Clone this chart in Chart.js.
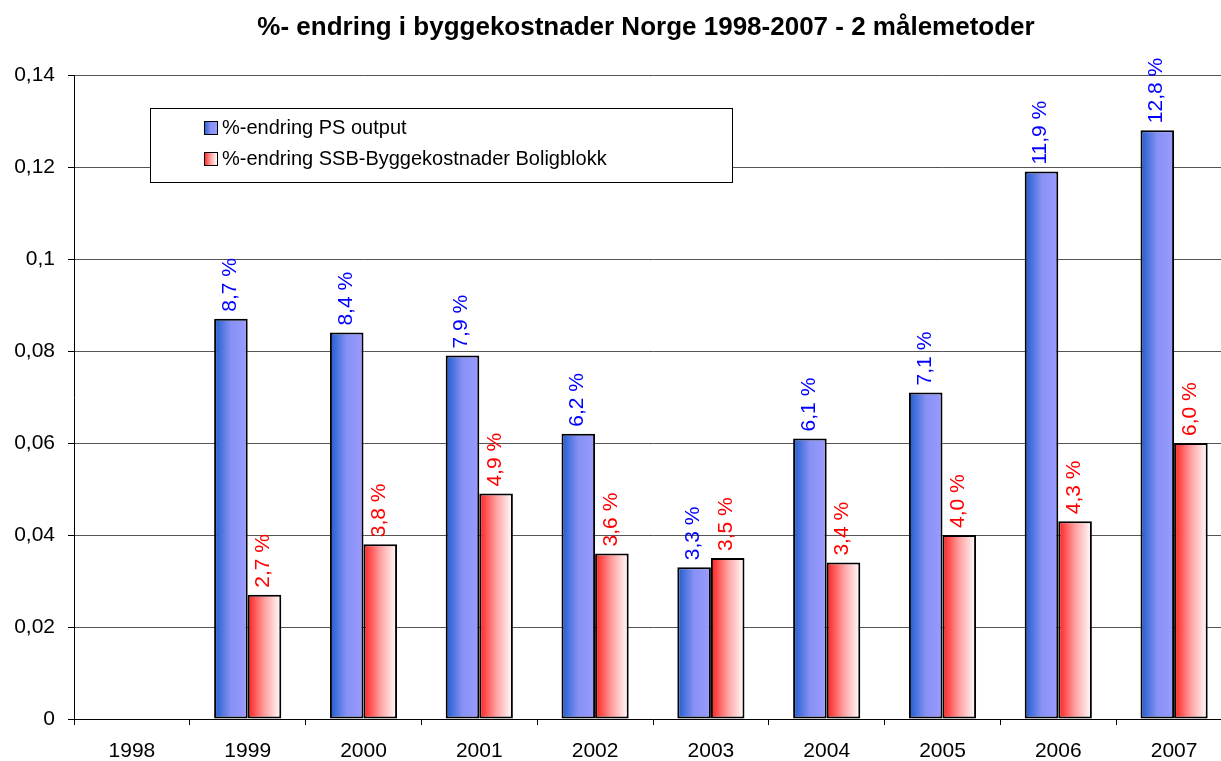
<!DOCTYPE html>
<html>
<head>
<meta charset="utf-8">
<script src="https://cdn.jsdelivr.net/npm/chart.js@4"></script>
<style>
  html, body { margin: 0; padding: 0; background: #fff; overflow: hidden; }
  #wrap { position: relative; width: 1221px; height: 761px; overflow: hidden; }
</style>
</head>
<body>
<div id="wrap"><canvas id="byggChart" width="1232" height="761"></canvas></div>
<script>
const years = ['1998', '1999', '2000', '2001', '2002', '2003', '2004', '2005', '2006', '2007'];
const psOutput = [null, 0.087, 0.084, 0.079, 0.062, 0.033, 0.061, 0.071, 0.119, 0.128];
const ssbBolig = [null, 0.027, 0.038, 0.049, 0.036, 0.035, 0.034, 0.040, 0.043, 0.060];
const yTickLabels = ['0', '0,02', '0,04', '0,06', '0,08', '0,1', '0,12', '0,14'];
const seriesNames = ['%-endring PS output', '%-endring SSB-Byggekostnader Boligblokk'];
const titleText = '%- endring i byggekostnader Norge 1998-2007 - 2 målemetoder';

const CAT_PCT = 0.58;
const blueStops = ['#1c5ccc', '#8791f4', '#9b9bff'];
const redStops = ['#ff1c1c', '#ffa0a0', '#ffffff'];
const labelColors = ['#0000ff', '#ff0000'];

function makeGrad(ctx, x0, x1, stops) {
    const g = ctx.createLinearGradient(x0, 0, x1, 0);
    g.addColorStop(0, stops[0]);
    g.addColorStop(0.5, stops[1]);
    g.addColorStop(1, stops[2]);
    return g;
}

function barFill(stops, side) {
    return function (context) {
        const chart = context.chart;
        const xs = chart.scales.x;
        if (!chart.chartArea || !xs) return stops[1];
        const center = xs.getPixelForValue(context.dataIndex);
        const barW = (xs.width / years.length) * CAT_PCT / 2;
        const x0 = side === 0 ? center - barW : center;
        return makeGrad(chart.ctx, x0, x0 + barW, stops);
    };
}

function pct(v) {
    return (v * 100).toFixed(1).replace('.', ',') + ' %';
}

const valueLabels = {
    id: 'valueLabels',
    afterDatasetsDraw(chart) {
        const ctx = chart.ctx;
        chart.data.datasets.forEach((ds, di) => {
            const meta = chart.getDatasetMeta(di);
            meta.data.forEach((el, i) => {
                const v = ds.data[i];
                if (v === null) return;
                ctx.save();
                ctx.translate(el.x - 1, el.y - 7);
                ctx.rotate(-Math.PI / 2);
                ctx.font = '21px "Liberation Sans", Arial, sans-serif';
                ctx.fillStyle = labelColors[di];
                ctx.textAlign = 'left';
                ctx.textBaseline = 'middle';
                ctx.fillText(pct(v), 0, 0);
                ctx.restore();
            });
        });
    }
};

const boxLegend = {
    id: 'boxLegend',
    afterDraw(chart) {
        const ctx = chart.ctx;
        ctx.save();
        ctx.fillStyle = '#fff';
        ctx.fillRect(150, 108, 582, 74);
        ctx.strokeStyle = '#000';
        ctx.lineWidth = 1;
        ctx.strokeRect(150.5, 108.5, 582, 74);
        const rows = [127, 158];
        const stops = [blueStops, redStops];
        rows.forEach((y, i) => {
            ctx.fillStyle = makeGrad(ctx, 204, 217, stops[i]);
            ctx.fillRect(204, y - 6, 13, 13);
            ctx.strokeRect(204.5, y - 5.5, 13, 13);
            ctx.fillStyle = '#000';
            ctx.font = '20px "Liberation Sans", Arial, sans-serif';
            ctx.textAlign = 'left';
            ctx.textBaseline = 'middle';
            ctx.fillText(seriesNames[i], 222, y + 1);
        });
        ctx.restore();
    }
};

const topTitle = {
    id: 'topTitle',
    afterDraw(chart) {
        const ctx = chart.ctx;
        ctx.save();
        ctx.fillStyle = '#000';
        ctx.font = 'bold 26px "Liberation Sans", Arial, sans-serif';
        ctx.textAlign = 'center';
        ctx.textBaseline = 'middle';
        ctx.fillText(titleText, 646, 28);
        ctx.restore();
    }
};

const ctx = document.getElementById('byggChart').getContext('2d');
const byggChart = new Chart(ctx, {
    type: 'bar',
    data: {
        labels: years,
        datasets: [{
            label: seriesNames[0],
            data: psOutput,
            backgroundColor: barFill(blueStops, 0),
            borderColor: '#000',
            borderWidth: 2,
            borderSkipped: false
        }, {
            label: seriesNames[1],
            data: ssbBolig,
            backgroundColor: barFill(redStops, 1),
            borderColor: '#000',
            borderWidth: 2,
            borderSkipped: false
        }]
    },
    options: {
        responsive: false,
        animation: false,
        layout: { padding: { top: 75, right: 0, left: 0, bottom: 0 } },
        datasets: { bar: { categoryPercentage: CAT_PCT, barPercentage: 1.0 } },
        plugins: {
            legend: { display: false },
            title: { display: false },
            tooltip: { enabled: false }
        },
        scales: {
            x: {
                offset: true,
                grid: { display: true, drawOnChartArea: false, offset: true, tickLength: 6, color: '#000', tickColor: '#000' },
                border: { color: '#000', width: 1 },
                ticks: { color: '#000', padding: 14, font: { size: 21, family: '"Liberation Sans", Arial, sans-serif' } },
                afterFit(scale) { scale.height = 42; }
            },
            y: {
                min: 0,
                max: 0.14,
                ticks: {
                    stepSize: 0.02,
                    color: '#000',
                    padding: 13,
                    font: { size: 21, family: '"Liberation Sans", Arial, sans-serif' },
                    callback: (value, index) => yTickLabels[index]
                },
                grid: { color: '#555', tickLength: 6, tickColor: '#000' },
                border: { color: '#000', width: 1 },
                afterFit(scale) { scale.width = 74; }
            }
        }
    },
    plugins: [valueLabels, boxLegend, topTitle]
});
</script>
</body>
</html>
